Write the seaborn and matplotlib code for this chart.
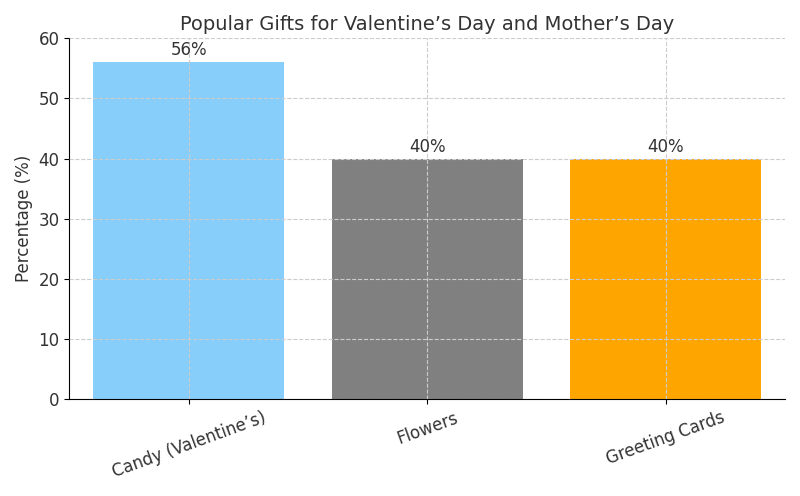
import matplotlib
matplotlib.use("Agg")
import matplotlib.pyplot as plt
import seaborn as sns
import pandas as pd

categories = ["Candy (Valentine’s)", "Flowers", "Greeting Cards"]
values = [56, 40, 40]
colors = ["#87CEFA", "#808080", "#FFA500"]

df = pd.DataFrame({"cat": categories, "val": values})
fig, ax = plt.subplots(figsize=(8, 4.96), dpi=100)
sns.barplot(data=df, x="cat", y="val", hue="cat", palette=colors, legend=False, ax=ax, width=0.8, saturation=1)
for p, v in zip(ax.patches, values):
    ax.text(p.get_x() + p.get_width()/2, v + 0.5, f"{v}%", ha="center", va="bottom", fontsize=12, color="#333333")
ax.set_ylim(0, 60)
ax.set_title("Popular Gifts for Valentine’s Day and Mother’s Day", fontsize=14, color="#333333")
ax.set_ylabel("Percentage (%)", fontsize=12, color="#333333")
ax.set_xlabel("")
ax.grid(True, linestyle="--", color="#cccccc", linewidth=0.8)
ax.set_axisbelow(False)
for s in ["top", "right"]:
    ax.spines[s].set_visible(False)
plt.xticks(rotation=20, fontsize=12, color="#333333")
plt.yticks(fontsize=12, color="#333333")
plt.tight_layout()
plt.savefig("out.png", dpi=100)
